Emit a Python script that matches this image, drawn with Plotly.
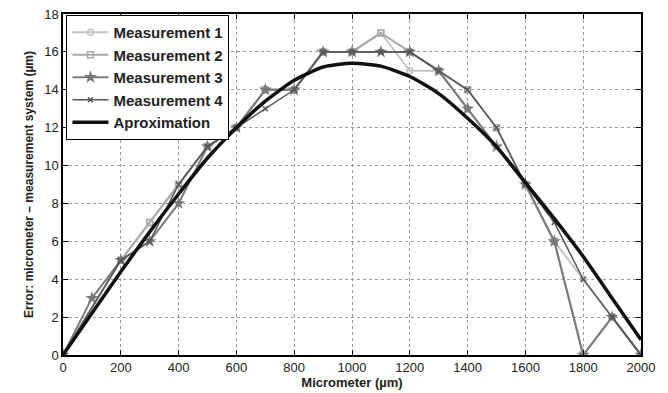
import plotly.graph_objects as go

x_um = [0, 100, 200, 300, 400, 500, 600, 700, 800, 900, 1000,
        1100, 1200, 1300, 1400, 1500, 1600, 1700, 1800, 1900, 2000]
meas1 = [0, None, 5, 7, 9, 11, 12, 14, 14, 16, 16, 17, 15, 15, 13, 11, 9, 6, 4, 2, 0]
meas2 = [0, None, 5, 7, 9, 11, 12, 14, 14, 16, 16, 17, 16, 15, 14, 12, 9, 6, 0, 2, 0]
meas3 = [0, 3, 5, 6, 8, 11, 12, 14, 14, 16, 16, 16, 16, 15, 13, 11, 9, 6, 0, 2, 0]
meas4 = [0, None, 5, 6, 9, 11, 12, 13, 14, 16, 16, 16, 16, 15, 14, 12, 9, 7, 4, 2, 0]
approx = [0, 2.2, 4.4, 6.5, 8.5, 10.4, 12.0, 13.4, 14.5, 15.2, 15.4,
          15.25, 14.7, 13.8, 12.5, 11.0, 9.1, 7.2, 5.2, 3.0, 0.8]

names = ["Measurement 1", "Measurement 2", "Measurement 3", "Measurement 4", "Aproximation"]

fig = go.Figure()
fig.add_trace(go.Scatter(x=x_um, y=meas1, name=names[0], mode="lines+markers", connectgaps=True,
                         line=dict(color="#c4c4c4", width=2),
                         marker=dict(symbol="circle-open", size=6, color="#c4c4c4", line=dict(width=1.5))))
fig.add_trace(go.Scatter(x=x_um, y=meas2, name=names[1], mode="lines+markers", connectgaps=True,
                         line=dict(color="#a8a8a8", width=2),
                         marker=dict(symbol="square-open", size=6, color="#a8a8a8", line=dict(width=1.5))))
fig.add_trace(go.Scatter(x=x_um, y=meas3, name=names[2], mode="lines+markers", connectgaps=True,
                         line=dict(color="#7a7a7a", width=2),
                         marker=dict(symbol="star", size=10, color="#7a7a7a")))
fig.add_trace(go.Scatter(x=x_um, y=meas4, name=names[3], mode="lines+markers", connectgaps=True,
                         line=dict(color="#555555", width=1.5),
                         marker=dict(symbol="x-thin-open", size=5, color="#555555", line=dict(width=1.5))))
fig.add_trace(go.Scatter(x=x_um, y=approx, name=names[4], mode="lines",
                         line=dict(color="#111111", width=3.5, shape="spline", smoothing=0.6)))

axis_common = dict(showline=True, linecolor="black", linewidth=1.5, mirror="ticks",
                   ticks="inside", ticklen=5, tickcolor="black", automargin=False,
                   ticklabeloverflow="allow",
                   showgrid=True, gridcolor="#999999", griddash="dot", gridwidth=1,
                   zeroline=False, tickfont=dict(size=13, color="#222222"))

fig.update_layout(
    width=660, height=385,
    margin=dict(l=55, r=27, t=6, b=38),
    paper_bgcolor="white", plot_bgcolor="white",
    font=dict(family="Liberation Sans, Arial, sans-serif", color="#222222"),
    xaxis=dict(range=[0, 2000], dtick=200, title=dict(text="<b>Micrometer (µm)</b>", font=dict(size=13), standoff=2),
               **axis_common),
    yaxis=dict(range=[0, 18], dtick=2, title=dict(text="<b>Error: micrometer – measurement system (µm)</b>", font=dict(size=12), standoff=8),
               **axis_common),
    legend=dict(x=0.006, y=0.997, xanchor="left", yanchor="top", bgcolor="white",
                bordercolor="black", borderwidth=1, font=dict(size=15, color="#222222"),
                itemwidth=36, tracegroupgap=0),
    showlegend=True,
)
for i, n in enumerate(names):
    fig.data[i].name = f"<b>{n}</b>"

fig.write_html("out.html")
